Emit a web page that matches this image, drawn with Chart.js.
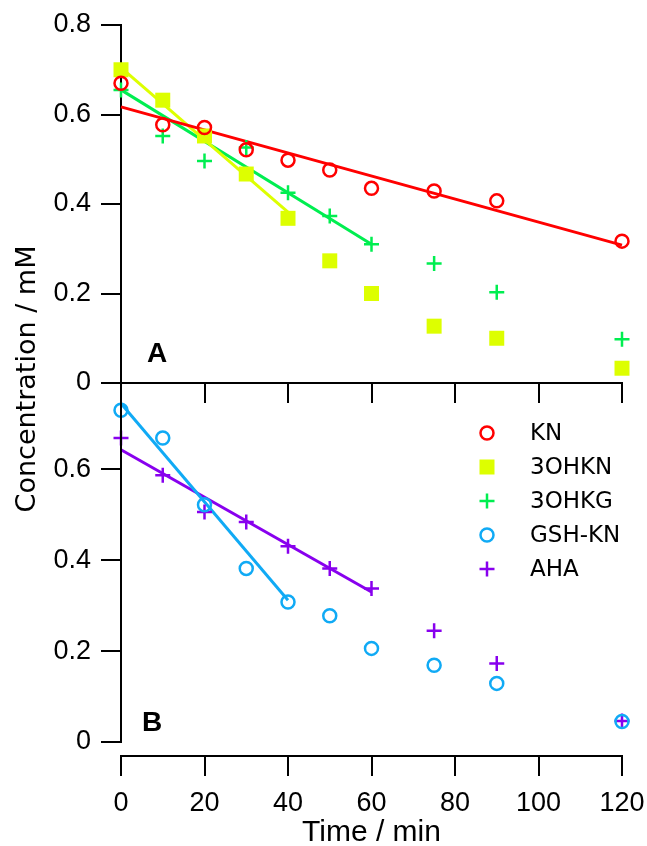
<!DOCTYPE html>
<html>
<head>
<meta charset="utf-8">
<script src="https://cdn.jsdelivr.net/npm/chart.js@4/dist/chart.umd.min.js"></script>
<style>
  body { margin: 0; background: #fff; }
  #wrap { position: relative; width: 647px; height: 846px; }
  canvas { position: absolute; left: 0; top: 0; }
</style>
</head>
<body>
<div id="wrap">
  <canvas id="chartB" width="647" height="846"></canvas>
  <canvas id="chartA" width="647" height="410"></canvas>
</div>
<script>
// sampling times (min)
const times = [0, 10, 20, 30, 40, 50, 60, 75, 90, 120];

// panel A
const knValues   = [0.670, 0.577, 0.571, 0.521, 0.498, 0.476, 0.435, 0.429, 0.407, 0.317];
const ohknValues = [0.700, 0.632, 0.552, 0.467, 0.368, 0.273, 0.200, 0.127, 0.100, 0.033];
const ohkgValues = [0.655, 0.552, 0.496, 0.526, 0.425, 0.373, 0.310, 0.267, 0.203, 0.098];

// panel B
const gshValues = [0.730, 0.669, 0.522, 0.382, 0.308, 0.278, 0.206, 0.169, 0.129, 0.045];
const ahaValues = [0.669, 0.587, 0.506, 0.484, 0.431, 0.382, 0.338, 0.245, 0.173, 0.046];

// linear fits (end points)
const knFitT   = [0, 120], knFitC   = [0.617, 0.308];
const ohknFitT = [0, 40],  ohknFitC = [0.705, 0.382];
const ohkgFitT = [0, 60],  ohkgFitC = [0.655, 0.310];
const gshFitT  = [0, 40],  gshFitC  = [0.745, 0.312];
const ahaFitT  = [0, 60],  ahaFitC  = [0.643, 0.330];

const xTicks  = [0, 20, 40, 60, 80, 100, 120];
const yTicksA = [0, 0.2, 0.4, 0.6, 0.8];
const yTicksB = [0, 0.2, 0.4, 0.6];

const seriesNames = ['KN', '3OHKN', '3OHKG', 'GSH-KN', 'AHA'];
const colors = {
  KN: '#FF0000',
  '3OHKN': '#DDFF00',
  '3OHKG': '#00EE50',
  'GSH-KN': '#10AAF5',
  AHA: '#8800EE'
};
const styles = { KN: 'circle', '3OHKN': 'rect', '3OHKG': 'cross', 'GSH-KN': 'circle', AHA: 'cross' };

function pts(xs, ys) {
  return xs.map((x, i) => ({ x: x, y: ys[i] }));
}

function markerSet(name, values) {
  const st = styles[name];
  return {
    label: name,
    data: pts(times, values),
    showLine: false,
    clip: false,
    order: 1,
    pointStyle: st,
    pointRadius: st == 'rect' ? 10.6 : (st == 'cross' ? 7.5 : 6.5),
    pointBorderWidth: st == 'rect' ? 0 : 2.5,
    pointBackgroundColor: st == 'rect' ? colors[name] : 'rgba(0,0,0,0)',
    pointBorderColor: colors[name],
    borderColor: colors[name]
  };
}

function fitSet(name, ts, cs) {
  return {
    label: name + ' fit',
    data: pts(ts, cs),
    showLine: true,
    clip: false,
    order: 2,
    pointRadius: 0,
    borderWidth: 3,
    borderColor: colors[name]
  };
}

const tickFont = { family: 'Liberation Sans', size: 27 };

function xScale(showLabels, height) {
  return {
    type: 'linear', min: 0, max: 120,
    afterBuildTicks: s => { s.ticks = xTicks.map(v => ({ value: v })); },
    afterFit: s => { s.height = height; s.paddingLeft = 0; s.paddingRight = 0; },
    ticks: { display: showLabels, color: '#000', font: tickFont, padding: 11, maxRotation: 0 },
    grid: { drawOnChartArea: false, drawTicks: true, tickLength: 20, color: '#000', lineWidth: 2 },
    border: { display: true, color: '#000', width: 2 },
    title: {
      display: showLabels, text: 'Time / min', color: '#000',
      font: { family: 'Liberation Sans', size: 30, lineHeight: 0.9 }, padding: { top: 0, bottom: 0 }
    }
  };
}

function yScale(min, max, ticks, showBorder) {
  return {
    type: 'linear', min: min, max: max,
    afterBuildTicks: s => { s.ticks = ticks.map(v => ({ value: v })); },
    afterFit: s => { s.width = 121; s.paddingTop = 0; s.paddingBottom = 0; },
    ticks: { color: '#000', font: tickFont, padding: 10 },
    grid: { drawOnChartArea: false, drawTicks: true, tickLength: 20, color: '#000', lineWidth: 2 },
    border: { display: showBorder, color: '#000', width: 2 }
  };
}

function drawMarker(ctx, style, color, x, y) {
  ctx.save();
  ctx.strokeStyle = color;
  ctx.fillStyle = color;
  ctx.lineWidth = 2.5;
  ctx.beginPath();
  if (style == 'circle') {
    ctx.arc(x, y, 6.5, 0, Math.PI * 2);
    ctx.stroke();
  } else if (style == 'rect') {
    ctx.fillRect(x - 7.5, y - 7.5, 15, 15);
  } else {
    ctx.moveTo(x - 7.5, y); ctx.lineTo(x + 7.5, y);
    ctx.moveTo(x, y - 7.5); ctx.lineTo(x, y + 7.5);
    ctx.stroke();
  }
  ctx.restore();
}

// panel labels, y title, legend and the shortened y axis line of panel B
const extras = {
  id: 'extras',
  afterDraw(chart) {
    const ctx = chart.ctx;
    const area = chart.chartArea;
    const y = chart.scales.y;
    ctx.save();
    if (chart.canvas.id == 'chartB') {
      ctx.strokeStyle = '#000';
      ctx.lineWidth = 2;
      ctx.beginPath();
      ctx.moveTo(area.left, y.getPixelForValue(0) + 1);
      ctx.lineTo(area.left, area.top);
      ctx.stroke();

      ctx.fillStyle = '#000';
      ctx.font = 'bold 28px "Liberation Sans"';
      ctx.textAlign = 'center';
      ctx.textBaseline = 'middle';
      ctx.fillText('B', area.left + 31, y.getPixelForValue(0) - 19);

      ctx.save();
      ctx.translate(28, 379);
      ctx.rotate(-Math.PI / 2);
      ctx.font = '27px "DejaVu Sans"';
      ctx.fillText('Concentration / mM', 0, 0);
      ctx.restore();

      ctx.font = '23px "DejaVu Sans"';
      ctx.textAlign = 'left';
      seriesNames.forEach((name, i) => {
        const ly = 433 + i * 34;
        drawMarker(ctx, styles[name], colors[name], 487, ly);
        ctx.fillStyle = '#000';
        ctx.fillText(name, 530, ly + 1);
      });
    } else {
      ctx.fillStyle = '#000';
      ctx.font = 'bold 28px "Liberation Sans"';
      ctx.textAlign = 'center';
      ctx.textBaseline = 'middle';
      ctx.fillText('A', area.left + 36, y.getPixelForValue(0) - 29);
    }
    ctx.restore();
  }
};

const common = {
  responsive: false,
  animation: false,
  plugins: { legend: { display: false }, tooltip: { enabled: false } }
};

new Chart(document.getElementById('chartA'), {
  type: 'scatter',
  data: {
    datasets: [
      markerSet('KN', knValues),
      markerSet('3OHKN', ohknValues),
      markerSet('3OHKG', ohkgValues),
      fitSet('KN', knFitT, knFitC),
      fitSet('3OHKN', ohknFitT, ohknFitC),
      fitSet('3OHKG', ohkgFitT, ohkgFitC)
    ]
  },
  options: Object.assign({}, common, {
    layout: { padding: { top: 25, right: 25, left: 0, bottom: 0 }, autoPadding: false },
    scales: { x: xScale(false, 27), y: yScale(0, 0.8, yTicksA, true) }
  }),
  plugins: [extras]
});

new Chart(document.getElementById('chartB'), {
  type: 'scatter',
  data: {
    datasets: [
      markerSet('GSH-KN', gshValues),
      markerSet('AHA', ahaValues),
      fitSet('GSH-KN', gshFitT, gshFitC),
      fitSet('AHA', ahaFitT, ahaFitC)
    ]
  },
  options: Object.assign({}, common, {
    layout: { padding: { top: 383, right: 25, left: 0, bottom: 0 }, autoPadding: false },
    scales: { x: xScale(true, 90), y: yScale(-0.0308, 0.79, yTicksB, false) }
  }),
  plugins: [extras]
});
</script>
</body>
</html>
